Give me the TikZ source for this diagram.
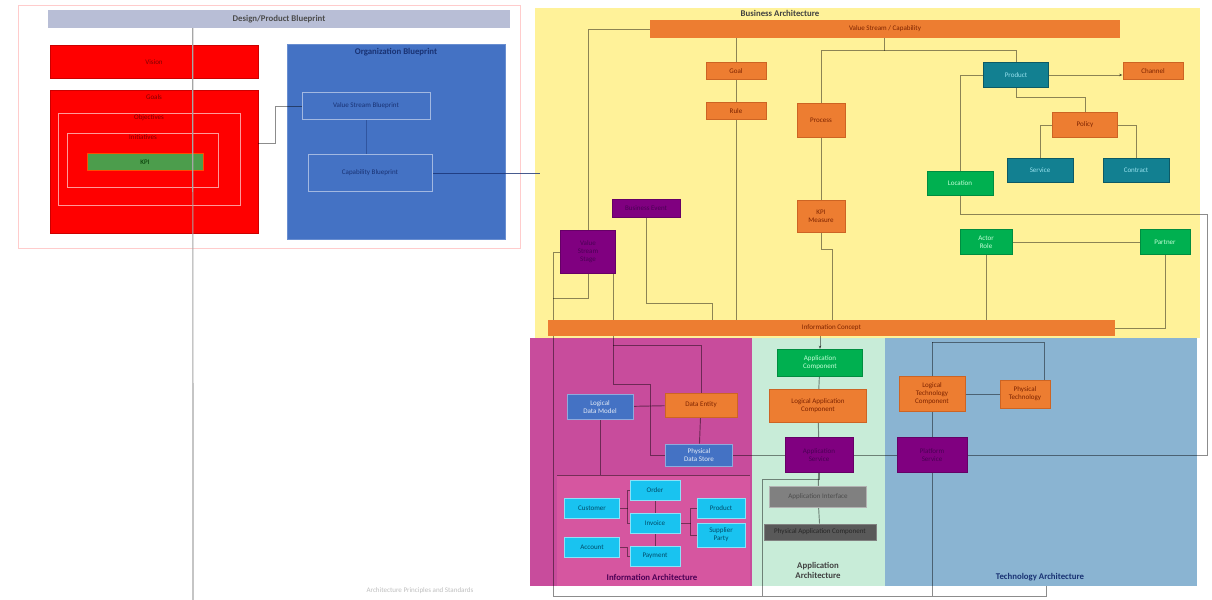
\documentclass[tikz,border=0pt]{standalone}
\usepackage{fontspec}
\setmainfont{Carlito}
\usetikzlibrary{calc, positioning, arrows.meta}

\definecolor{orgc}{RGB}{237,125,49}
\definecolor{orgd}{RGB}{205,100,35}
\definecolor{orgt}{RGB}{125,35,0}
\definecolor{tealc}{RGB}{18,128,145}
\definecolor{tealt}{RGB}{150,225,238}
\definecolor{grnc}{RGB}{0,176,80}
\definecolor{grnt}{RGB}{195,255,215}
\definecolor{purc}{RGB}{128,0,128}
\definecolor{purt}{RGB}{75,0,85}
\definecolor{yelc}{RGB}{255,242,153}
\definecolor{pinkc}{RGB}{200,76,156}
\definecolor{pinki}{RGB}{214,86,160}
\definecolor{mintc}{RGB}{200,236,216}
\definecolor{skyc}{RGB}{138,180,210}
\definecolor{bluec}{RGB}{68,114,196}
\definecolor{bluet}{RGB}{25,50,115}
\definecolor{cyanc}{RGB}{25,195,240}
\definecolor{cyant}{RGB}{0,75,105}
\definecolor{titlec}{RGB}{184,190,214}

\pgfdeclarelayer{panels}
\pgfdeclarelayer{links}
\pgfsetlayers{panels,links,main}

\begin{document}
\begin{tikzpicture}[x=0.03cm, y=-0.03cm,
    sz/.style 2 args={minimum width=#1*0.03cm, minimum height=#2*0.03cm},
    every node/.style={font=\fontsize{6}{6.8}\selectfont, align=center, inner sep=0.5pt}]
    \tikzstyle{obox}=[fill=orgc, draw=orgd, text=orgt, line width=0.8pt]
    \tikzstyle{tbox}=[fill=tealc, draw=tealc!70!black, text=tealt, line width=0.8pt]
    \tikzstyle{gbox}=[fill=grnc, draw=grnc!80!black, text=grnt, line width=0.8pt]
    \tikzstyle{pbox}=[fill=purc, draw=purc!80!black, text=purt, line width=0.8pt]
    \tikzstyle{bbox}=[fill=bluec, draw=bluec!60!white, text=white!85!bluec, line width=0.8pt]
    \tikzstyle{cbox}=[fill=cyanc, draw=cyanc!50!white, text=cyant, line width=0.8pt]
    \tikzstyle{link}=[draw=black, draw opacity=.45, line width=0.8pt]
    \tikzstyle{title}=[font=\fontsize{7.5}{8.5}\selectfont\bfseries]
    \useasboundingbox (0,0) rectangle (1212,600);

    \begin{pgfonlayer}{panels}
    \fill[white] (0,0) rectangle (1212,600);
    \draw[red!20, fill=white] (18,5) rectangle (520,248);
    \fill[yelc] (535,8) rectangle (1200,338);
    \fill[pinkc] (530,338) rectangle (752,586);
    \fill[pinki] (557,475) rectangle (750,586);
    \fill[mintc] (752,338) rectangle (885,586);
    \fill[skyc] (885,338) rectangle (1197,586);
    % design / product blueprint
    \node[fill=titlec, sz={462}{18}, title, text=black!70] (titlebar) at (279,19) {Design/Product Blueprint};
    \node[fill=red, draw=red!80!black, sz={208}{33}, text=red!50!black] (vision) at (154,62) {Vision};
    \node[fill=red, draw=red!80!black, sz={208}{143}, label={[anchor=north, text=red!50!black, yshift=-3pt]north:Goals}] (goals) at (154,162) {};
    \node[draw=red!40!white, line width=0.8pt, sz={182}{92}, label={[anchor=north, text=red!50!black, yshift=-1pt]north:Objectives}] (objectives) at (149,159) {};
    \node[draw=red!40!white, line width=0.8pt, sz={151}{54}, label={[anchor=north, text=red!50!black, yshift=-1pt]north:Initiatives}] (initiatives) at (143,160) {};
    \node[fill=green!45!black!70, draw=orange!60!red, line width=0.8pt, sz={116}{17}, text=green!20!black] (kpiL) at (145,162) {KPI};
    \node[fill=bluec, draw=bluec!80!white, sz={218}{195}, label={[anchor=north, title, text=bluet, yshift=-3pt]north:Organization Blueprint}] (org) at (396,142) {};
    \end{pgfonlayer}
    \node[draw=bluec!50!white, line width=0.8pt, sz={128}{27}, text=bluet] (inner1) at (366,106) {Value Stream Blueprint};
    \node[draw=bluec!50!white, line width=0.8pt, sz={124}{37}, text=bluet] (inner2) at (370,173) {Capability Blueprint};
    \coordinate (bizedge) at (540,173);

    % business architecture
    \node[title, text=black!75] (bizarch) at (780,13) {Business Architecture};
    \node[fill=orgc, sz={470}{18}, text=orgt] (topbar) at (885,29) {Value Stream / Capability};
    \node[obox, sz={60}{17}] (goal) at (736,71) {Goal};
    \node[obox, sz={60}{17}] (rule) at (736,111) {Rule};
    \node[obox, sz={48}{34}] (process) at (821,120) {Process};
    \node[obox, sz={48}{32}] (kpi) at (821,216) {KPI\\Measure};
    \node[tbox, sz={65}{25}] (product) at (1016,75) {Product};
    \node[obox, sz={60}{17}] (channel) at (1153,71) {Channel};
    \node[obox, sz={65}{25}] (policy) at (1085,125) {Policy};
    \node[tbox, sz={66}{24}] (service) at (1040,170) {Service};
    \node[tbox, sz={66}{24}] (contract) at (1136,170) {Contract};
    \node[gbox, sz={66}{24}] (location) at (960,183) {Location};
    \node[gbox, sz={52}{25}] (actor) at (986,242) {Actor\\Role};
    \node[gbox, sz={50}{25}] (partner) at (1165,242) {Partner};
    \node[pbox, sz={68}{18}] (event) at (646,208) {Business Event};
    \node[pbox, sz={55}{43}] (vsfunc) at (588,252) {Value\\Stream\\Stage};
    \node[fill=orgc, sz={567}{16}, text=orgt] (bizobj) at (831.5,328) {Information Concept};

    % information architecture
    \node[bbox, sz={66}{25}] (ldm) at (600,407) {Logical\\Data Model};
    \node[obox, sz={72}{24}] (dentity) at (701,405) {Data Entity};
    \node[bbox, sz={67}{22}] (dstore) at (699,455) {Physical\\Data Store};
    \node[cbox, sz={55}{20}] (cust) at (592,508) {Customer};
    \node[cbox, sz={50}{20}] (order) at (655,490) {Order};
    \node[cbox, sz={50}{20}] (invoice) at (655,523) {Invoice};
    \node[cbox, sz={55}{20}] (account) at (592,547) {Account};
    \node[cbox, sz={50}{20}] (payment) at (655,556) {Payment};
    \node[cbox, sz={48}{20}] (item) at (721,508) {Product};
    \node[cbox, sz={48}{24}] (supplier) at (721,535) {Supplier\\Party};
    \node[title, text=purt] (infolbl) at (652,577) {Information Architecture};

    % application architecture
    \node[gbox, sz={85}{27}] (appcomp) at (820,363) {Application\\Component};
    \node[obox, sz={97}{33}] (lac) at (818,406) {Logical Application\\Component};
    \node[pbox, sz={68}{35}] (appsvc) at (819,455) {Application\\Service};
    \node[fill=gray, draw=gray!60!white, line width=0.8pt, sz={97}{21}, text=black!70] (appif) at (818,497) {Application Interface};
    \node[fill=black!65, draw=gray, line width=0.8pt, sz={112}{16}, text=black!85] (pac) at (820,532) {Physical Application Component};
    \node[title, text=black!75] (applbl) at (818,570) {Application\\Architecture};

    % technology architecture
    \node[obox, sz={66}{35}] (ltc) at (932,394) {Logical\\Technology\\Component};
    \node[obox, sz={50}{28}] (ptc) at (1025,394) {Physical\\Technology};
    \node[pbox, sz={70}{35}] (techsvc) at (932,455) {Platform\\Service};
    \node[title, text=bluet] (techlbl) at (1040,577) {Technology Architecture};
    \node[text=black!25] (caption) at (420,591) {Architecture Principles and Standards};

    \coordinate (bl0) at (193,600);
    \coordinate (bl1) at (553,596);
    \coordinate (bl2) at (762,596);
    \coordinate (bl3) at (932,596);
    \coordinate (bl4) at (1046,596);
    \coordinate (rx) at (1207,455);
    \coordinate (tj) at (932,342);
    \coordinate (j1) at (613,345);

    \draw[black!35, line width=1pt] ($(titlebar.south west)+(145,0)$) -- (bl0);

    \begin{pgfonlayer}{links}
    % left blueprints
    \draw[link] ([yshift=.57cm]goals.east) -- ++(17,0) |- (inner1.west);
    \draw[link, draw=bluet] (inner1.south) -- (inner1.south |- inner2.north);
    \draw[link, draw=bluet, draw opacity=.8] (inner2.east) -- (bizedge);
    % business links
    \draw[link] (topbar.west) -| (vsfunc.north);
    \draw[link] (vsfunc.west) -| (bl1);
    \draw[link] (vsfunc.south) |- ($(bl1)+(0,-298)$);
    \draw[link] ([xshift=-2pt]vsfunc.south east) -- ++(0,110) -- ++(37,0) |- (dstore.west);
    \draw[link] (j1) -| (dentity.north);
    \draw[link] (event.south) -- ++(0,86) -| ($(bizobj.north west)+(165,0)$);
    \draw[link] (topbar.south -| goal.north) -- (goal);
    \draw[link] (goal) -- (rule);
    \draw[link] (rule.south) -- (rule.south |- bizobj.north);
    \draw[link] ($(topbar.south west)+(235,0)$) -- ++(0,12) coordinate (pj) -| (product.north);
    \draw[link] (pj) -| (process.north);
    \draw[link] (process) -- (kpi);
    \draw[link] (kpi.south) -- ++(0,17) -| ($(bizobj.north west)+(285,0)$);
    \draw[link, -{Stealth[length=3pt]}] (product.east) -- (product.east -| channel.west);
    \draw[link] (product.south) -- ++(0,10) -| (policy.north);
    \draw[link] (policy.west) -| (service.north);
    \draw[link] (policy.east) -| (contract.north);
    \draw[link] (product.west) -| (location.north);
    \draw[link] (location.south) -- ++(0,19) -| (rx) -- (techsvc.east);
    \draw[link] (actor) -- (partner);
    \draw[link] (actor.south) -- (actor.south |- bizobj.north);
    \draw[link] (partner.south) |- (bizobj.east);
    % information links
    \draw[link] (ldm) -- (dentity);
    \draw[link] (dentity) -- (dstore);
    \draw[link] (ldm.south) -- ++(0,55) coordinate (ij0);
    \draw[link] (557,475) -- (750,475);
    \draw[link] (dstore) -- (appsvc);
    \draw[link] (cust.east) -- ++(7,0) coordinate (cj) |- (order.west);
    \draw[link] (cj) |- (invoice.west);
    \draw[link] (order) -- (invoice);
    \draw[link] (invoice) -- (payment);
    \draw[link] (account.east) -- ++(7,0) |- (payment.west);
    \draw[link] (invoice.east) -- ++(10,0) coordinate (ij) |- (item.west);
    \draw[link] (ij) |- (supplier.west);
    % application links
    \draw[link, -{Stealth[length=3pt]}] (bizobj.south -| appcomp.north) -- (appcomp.north);
    \draw[link] (appcomp) -- (lac);
    \draw[link] (lac) -- (appsvc);
    \draw[link] (appsvc) -- (appif);
    \draw[link] (appif) -- (pac);
    \draw[link] (appsvc.south) -- ++(0,6) -| (bl2);
    % technology links
    \draw[link] (appsvc) -- (techsvc);
    \draw[link] (tj) -- (ltc.north);
    \draw[link] (tj) -| ($(ptc.north east)+(-6,0)$);
    \draw[link] (ltc) -- (ptc);
    \draw[link] (ltc) -- (techsvc);
    \draw[link] (techsvc.south) -- (bl3);
    \draw[link] (bl1) -- (bl4) -- ++(0,-10);
    \end{pgfonlayer}
\end{tikzpicture}
\end{document}
